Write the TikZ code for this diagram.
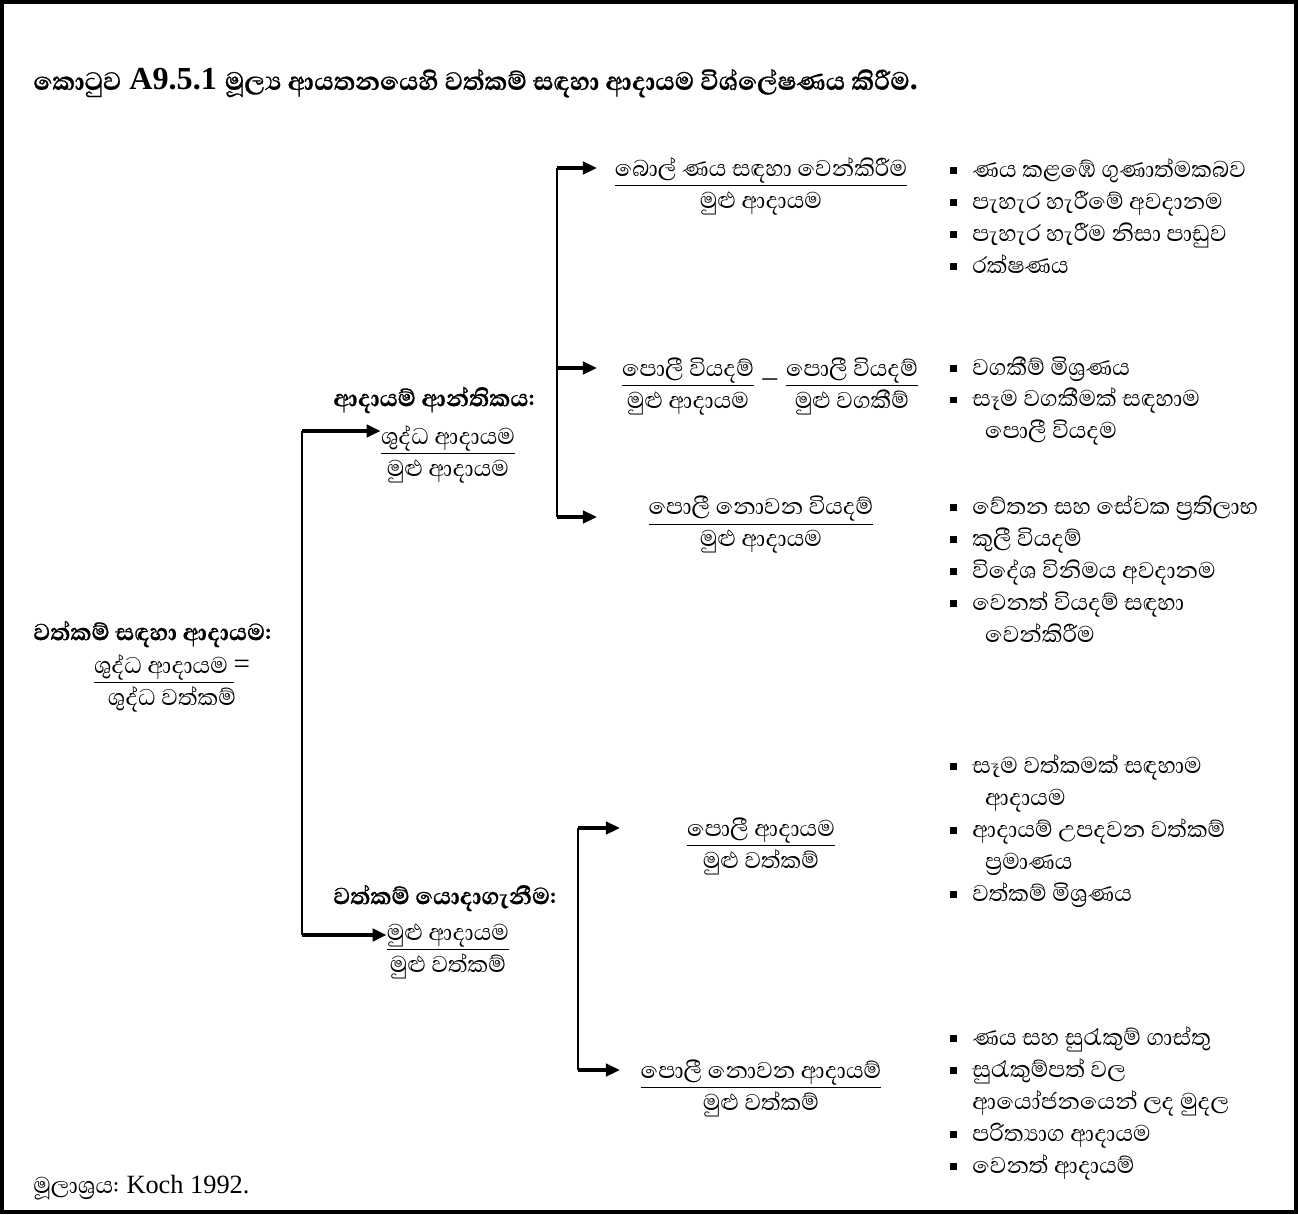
\documentclass[tikz,border=0pt]{standalone}
\usepackage{fontspec}
\setmainfont{Liberation Serif}
\newfontfamily\sinhalafont[Script=Sinhala,BoldFeatures={FakeBold=0.8}]{Abhaya Libre}
\usetikzlibrary{arrows.meta}
\newcommand\itm{\rule[2pt]{3.6pt}{3.6pt}\hspace{8.9pt}}
\newcommand\cnt{\hspace{19.8pt}}

\begin{document}
\begin{tikzpicture}[x=0.02cm,y=-0.02cm,
  trunk/.style={line width=1.4pt},
  arr/.style={line width=2pt,-{Triangle[length=8pt,width=7pt]}},
  body/.style={font=\sinhalafont\fontsize{16.6}{18.2}\selectfont,inner sep=0pt},
  head/.style={font=\sinhalafont\bfseries\fontsize{17}{18.2}\selectfont,inner sep=0pt,anchor=west},
  frac/.style={body,align=center},
  items/.style={body,align=left,anchor=north west}]
\useasboundingbox (0,0) rectangle (1298,1214);
\draw[line width=2.2pt] (2,2) rectangle (1296,1212);

% title
\draw (33,83) node[anchor=west,inner sep=0pt,font=\fontsize{18.3}{21}\selectfont\bfseries] (title)
  {{\sinhalafont කොටුව} A9.5.1 {\sinhalafont මූල්‍ය ආයතනයෙහි වත්කම් සඳහා ආදායම විශ්ලේෂණය කිරීම}.};

% left
\draw (33,634) node[head] (roa) {වත්කම් සඳහා ආදායම:};
\draw (172,683) node[frac] (roafrac) {\underline{ශුද්ධ ආදායම }{\rmfamily =}\\ශුද්ධ වත්කම්};

% middle
\draw (333,400) node[head] (margin) {ආදායම් ආන්තිකය:};
\draw (448,454) node[frac] (marginfrac) {\underline{ශුද්ධ ආදායම}\\මුළු ආදායම};
\draw (333,898) node[head] (util) {වත්කම් යොදාගැනීම:};
\draw (448,951) node[frac] (utilfrac) {\underline{මුළු ආදායම}\\මුළු වත්කම්};

% branches
\draw (761,186) node[frac] (loanloss) {\underline{බොල් ණය සඳහා වෙන්කිරීම}\\මුළු ආදායම};
\draw (770,386) node[body] (intexp) {\begin{tabular}{@{}c@{\hspace{5pt}}c@{\hspace{5pt}}c@{}}
  \underline{පොලී වියදම්} & {\rmfamily\_} & \underline{පොලී වියදම්}\\
  මුළු ආදායම & & මුළු වගකීම්\end{tabular}};
\draw (761,525) node[frac] (nonintexp) {\underline{පොලී නොවන වියදම්}\\මුළු ආදායම};
\draw (761,846) node[frac] (intinc) {\underline{පොලී ආදායම}\\මුළු වත්කම්};
\draw (761,1088) node[frac] (nonintinc) {\underline{පොලී නොවන ආදායම්}\\මුළු වත්කම්};

% lists
\draw (950,158) node[items] (list1) {\itm ණය කළඹේ ගුණාත්මකබව\\\itm පැහැර හැරීමේ අවදානම\\\itm පැහැර හැරීම නිසා පාඩුව\\\itm රක්ෂණය};
\draw (950,356) node[items] (list2) {\itm වගකීම් මිශ්‍රණය\\\itm සෑම වගකීමක් සඳහාම\\\cnt පොලී වියදම};
\draw (950,495) node[items] (list3) {\itm වේතන සහ සේවක ප්‍රතිලාභ\\\itm කුලී වියදම්\\\itm විදේශ විනිමය අවදානම\\\itm වෙනත් වියදම් සඳහා\\\cnt වෙන්කිරීම};
\draw (950,754) node[items] (list4) {\itm සෑම වත්කමක් සඳහාම\\\cnt ආදායම\\\itm ආදායම් උපදවන වත්කම්\\\cnt ප්‍රමාණය\\\itm වත්කම් මිශ්‍රණය};
\draw (950,1026) node[items] (list5) {\itm ණය සහ සුරැකුම් ගාස්තු\\\itm සුරැකුම්පත් වල\\\hspace{12.5pt}ආයෝජනයෙන් ලද මුදල\\\itm පරිත්‍යාග ආදායම\\\itm වෙනත් ආදායම්};

% source
\draw (33,1188) node[body,anchor=west] (source) {මූලාශ්‍රය: {\rmfamily\fontsize{15}{16}\selectfont Koch 1992.}};

% connectors
\node[shape=coordinate] (tA) at (302,431) {};
\node[shape=coordinate] (tB) at (302,935) {};
\draw[trunk] (tA) -- (tB);
\draw[arr] (tA) -- (tA -| marginfrac.west);
\draw[arr] (tB) -- (tB -| utilfrac.west);

\node[shape=coordinate] (uA) at (557,168) {};
\node[shape=coordinate] (uB) at (557,368) {};
\node[shape=coordinate] (uC) at (557,517) {};
\draw[trunk] (uA) -- (uC);
\node[shape=coordinate] (uAe) at (597,168) {};
\node[shape=coordinate] (uBe) at (597,368) {};
\node[shape=coordinate] (uCe) at (597,517) {};
\draw[arr] (uA) -- (uAe);
\draw[arr] (uB) -- (uBe);
\draw[arr] (uC) -- (uCe);

\node[shape=coordinate] (lA) at (578,828) {};
\node[shape=coordinate] (lB) at (578,1070) {};
\draw[trunk] (lA) -- (lB);
\node[shape=coordinate] (lAe) at (620,828) {};
\node[shape=coordinate] (lBe) at (620,1070) {};
\draw[arr] (lA) -- (lAe);
\draw[arr] (lB) -- (lBe);
\end{tikzpicture}
\end{document}
